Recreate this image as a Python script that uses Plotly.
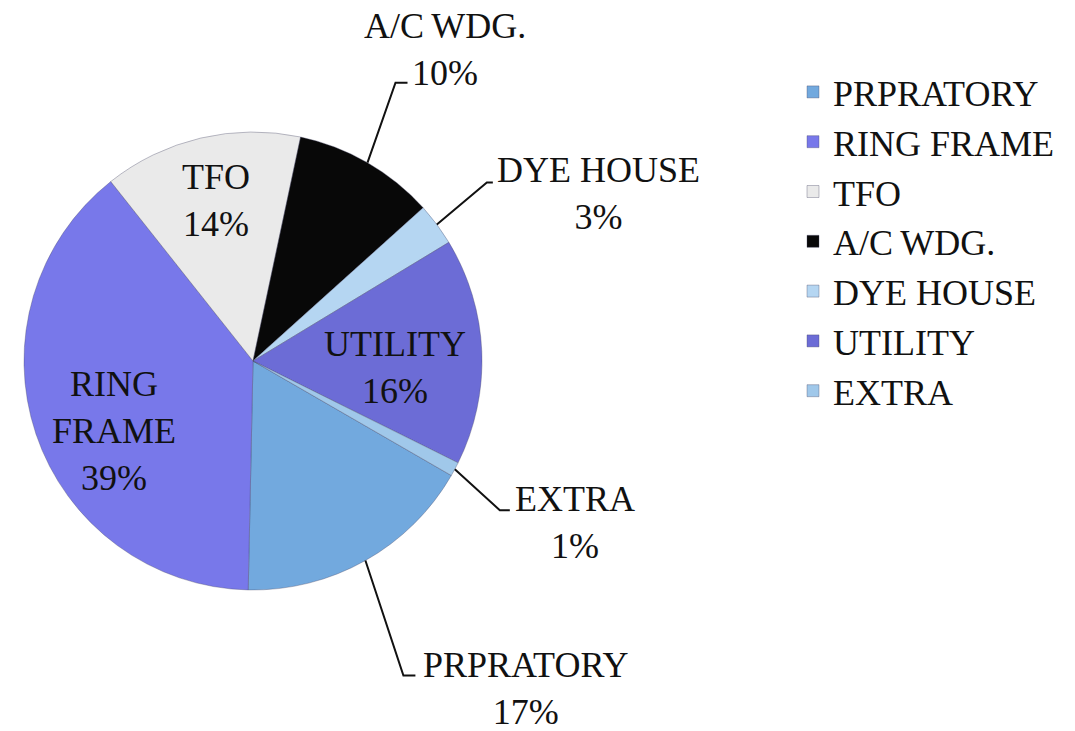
import math
import plotly.graph_objects as go

# ---- data ----
categories = ["PRPRATORY", "RING FRAME", "TFO", "A/C WDG.", "DYE HOUSE", "UTILITY", "EXTRA"]
legend_labels = ["PRPRATORY", "RING FRAME", "TFO", "A/C\u2009WDG.", "DYE HOUSE", "UTILITY", "EXTRA"]
values = [17, 39, 14, 10, 3, 16, 1]
percent_labels = ["17%", "39%", "14%", "10%", "3%", "16%", "1%"]
label_lines = ["PRPRATORY", "RING<br>FRAME", "TFO", "A/C\u2009WDG.", "DYE HOUSE", "UTILITY", "EXTRA"]

# ---- style ----
colors = ["#72A9DE", "#7878EA", "#EAEAEA", "#080808", "#B5D6F2", "#6C6CD6", "#A0C8EA"]
W, H = 1075, 731
CX, CY, R = 253, 361, 229          # pie centre / radius in pixels
ROTATION = 120                     # first slice start, degrees clockwise from 12 o'clock
FONT = "Liberation Serif"
FS = 36

# inside labels: (radius fraction, angle tweak deg, dx px, dy px)
inside_style = {1: (0.68, -8, 0, 0), 2: (0.71, 0, 0, -2), 5: (0.62, 5, 0, 0)}
# outside labels: elbow offset from edge anchor, stub length, text offset from stub end, x anchor
outside_style = {
    0: ((38, 115), 12, (6, 13), "left"),
    3: ((28, -80), 12, (37, -33), "center"),
    4: ((50, -42), 6, (2, 11), "left"),
    6: ((45, 41), 10, (3, 12), "left"),
}

def px(x):
    return x / W

def py(y):
    return 1 - y / H

fig = go.Figure(go.Pie(
    labels=legend_labels,
    values=values,
    sort=False,
    direction="clockwise",
    rotation=ROTATION,
    marker=dict(colors=colors, line=dict(color="rgba(70,70,100,0.35)", width=1)),
    textinfo="none",
    hoverinfo="label+percent",
    domain=dict(x=[px(CX - R), px(CX + R)], y=[py(CY + R), py(CY - R)]),
))

total = sum(values)
annotations = []
shapes = []
acc = 0.0
for i, v in enumerate(values):
    a0 = ROTATION + acc / total * 360
    acc += v
    a1 = ROTATION + acc / total * 360
    mid = math.radians((a0 + a1) / 2)
    text = f"{label_lines[i]}<br>{percent_labels[i]}"
    if i in inside_style:
        rf, tweak, dx, dy = inside_style[i]
        m = mid + math.radians(tweak)
        x = CX + rf * R * math.sin(m) + dx
        y = CY - rf * R * math.cos(m) + dy
        annotations.append(dict(x=px(x), y=py(y), xref="paper", yref="paper", text=text,
                                showarrow=False, xanchor="center", yanchor="middle",
                                font=dict(family=FONT, size=FS, color="#111111")))
    else:
        (ex, ey), stub, (tx, ty), xa = outside_style[i]
        ax = CX + R * math.sin(mid)
        ay = CY - R * math.cos(mid)
        bx, by = ax + ex, ay + ey
        sx, sy = bx + stub, by
        shapes.append(dict(type="path", xref="paper", yref="paper",
                           path=f"M {px(ax)},{py(ay)} L {px(bx)},{py(by)} L {px(sx)},{py(sy)}",
                           line=dict(color="#111111", width=2)))
        annotations.append(dict(x=px(sx + tx), y=py(sy + ty), xref="paper", yref="paper", text=text,
                                showarrow=False, xanchor=xa, yanchor="middle", align="center",
                                font=dict(family=FONT, size=FS, color="#111111")))

fig.update_layout(
    width=W, height=H,
    margin=dict(l=0, r=0, t=0, b=0),
    paper_bgcolor="white",
    plot_bgcolor="white",
    showlegend=True,
    legend=dict(x=px(793), y=py(62), xanchor="left", yanchor="top",
                font=dict(family=FONT, size=FS, color="#111111"),
                bgcolor="rgba(0,0,0,0)"),
    annotations=annotations,
    shapes=shapes,
)

fig.write_html("out.html", config={"displayModeBar": False},
               post_script="document.body.style.margin='0';")
